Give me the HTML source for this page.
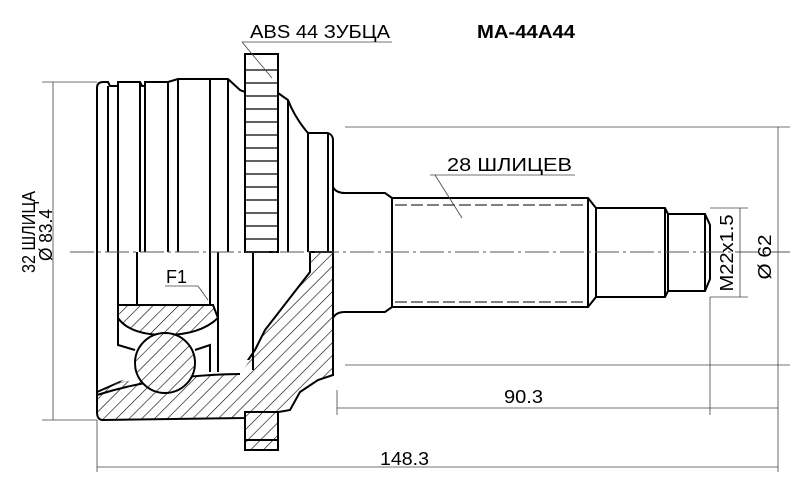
<!DOCTYPE html>
<html><head><meta charset="utf-8"><style>
html,body{margin:0;padding:0;background:#fff;}
svg{display:block;font-family:"Liberation Sans",sans-serif;}
</style></head><body>
<svg width="800" height="502" viewBox="0 0 800 502" xmlns="http://www.w3.org/2000/svg">
<defs>
<pattern id="h" width="9" height="9" patternUnits="userSpaceOnUse" patternTransform="rotate(45)">
<rect width="9" height="9" fill="#fff"/><line x1="0" y1="0" x2="0" y2="9" stroke="#000" stroke-width="1.2"/>
</pattern>
</defs>
<g fill="none" stroke="#000" stroke-width="2">
<path d="M97,252 L97,88 Q97,82 103,82 L108,82 L110,86 L118,86 L118,82 L140,82 L142,86 L145,86 L145,82 L168,82 L178,79 L228,79 L240,90 L245,92"/>
<line x1="108" y1="86" x2="108" y2="252"/>
<line x1="118" y1="86" x2="118" y2="252"/>
<line x1="140" y1="82" x2="140" y2="252"/>
<line x1="145" y1="82" x2="145" y2="252"/>
<line x1="168" y1="82" x2="168" y2="252"/>
<line x1="178" y1="79" x2="178" y2="252"/>
<line x1="210" y1="79" x2="210" y2="252"/>
<line x1="228" y1="79" x2="228" y2="252"/>
<rect x="245" y="54" width="33" height="198"/>
<path d="M278,93 L288,100 Q295,118 308,133 L328,133 Q333,135 333,140 L333,252"/>
<line x1="288" y1="100" x2="288" y2="252"/>
<line x1="308" y1="133" x2="308" y2="252"/>
<line x1="328" y1="133" x2="328" y2="252"/>
<path d="M333,187 Q336,193 345,193 L385,193 L392,198 L588,198 L596,208 L665,208 L668,214 L705,214 L710,225 L710,279 L705,291 L668,291 L665,297 L596,297 L588,307 L392,307 L385,312 L345,312 Q336,312 333,318"/>
<line x1="392" y1="198" x2="392" y2="307"/>
<line x1="588" y1="198" x2="588" y2="307"/>
<line x1="596" y1="208" x2="596" y2="297"/>
<line x1="665" y1="208" x2="665" y2="297"/>
<line x1="668" y1="214" x2="668" y2="291"/>
<line x1="705" y1="214" x2="705" y2="291"/>
</g>
<g stroke="#000" stroke-width="1.2">
<line x1="245" y1="70" x2="278" y2="70"/><line x1="245" y1="83" x2="278" y2="83"/><line x1="245" y1="96" x2="278" y2="96"/><line x1="245" y1="109" x2="278" y2="109"/><line x1="245" y1="122" x2="278" y2="122"/><line x1="245" y1="135" x2="278" y2="135"/><line x1="245" y1="148" x2="278" y2="148"/><line x1="245" y1="161" x2="278" y2="161"/><line x1="245" y1="174" x2="278" y2="174"/><line x1="245" y1="187" x2="278" y2="187"/><line x1="245" y1="200" x2="278" y2="200"/><line x1="245" y1="213" x2="278" y2="213"/><line x1="245" y1="226" x2="278" y2="226"/><line x1="245" y1="239" x2="278" y2="239"/>
</g>
<g stroke="#000" stroke-width="1" stroke-dasharray="12,4">
<line x1="395" y1="205" x2="588" y2="205"/><line x1="395" y1="302" x2="588" y2="302"/>
</g>
<g stroke="#000" stroke-width="2">
<path fill="url(#h)" d="M97,252 L97,412 Q97,420 103,420 L245,418 L290,410 L300,392 L318,380 L333,375 L333,252 L310,252 L310,272 L265,330 L255,350 L240,372 L205,374 L150,375 L120,382 L97,392"/>
<path fill="#fff" d="M97,395 L118,383 L150,377 L205,376 L240,374 L250,360 L160,360 Z" stroke="none"/>
<path fill="none" d="M97,395 Q160,375 240,374"/>
<path fill="url(#h)" d="M118,305 L213,305 L218,318 Q200,335 165,335 Q130,335 118,318 Z"/>
<circle cx="165" cy="363" r="30" fill="url(#h)"/>
<rect x="245" y="412" width="33" height="38" fill="url(#h)"/>
<line x1="245" y1="440" x2="278" y2="440"/>
<g fill="none">
<line x1="118" y1="252" x2="118" y2="305"/>
<line x1="137" y1="252" x2="137" y2="305"/>
<line x1="210" y1="252" x2="210" y2="305"/>
<line x1="218" y1="252" x2="218" y2="318"/>
<polyline points="218,318 218,372"/>
<line x1="253" y1="252" x2="253" y2="370"/>
<path d="M118,318 L118,345 L135,350"/>
<path d="M195,350 L210,345 L210,372"/>
</g>
</g>
<line x1="70" y1="252" x2="790" y2="252" stroke="#555" stroke-width="1" stroke-dasharray="24,4,3,4"/>
<g stroke="#444" stroke-width="0.8" fill="none">
<line x1="42" y1="82" x2="97" y2="82"/><line x1="42" y1="420" x2="97" y2="420"/>
<line x1="53" y1="82" x2="53" y2="420"/>
<line x1="345" y1="127" x2="790" y2="127"/><line x1="345" y1="365" x2="790" y2="365"/>
<line x1="778" y1="127" x2="778" y2="365"/>
<line x1="710" y1="208" x2="748" y2="208"/><line x1="710" y1="297" x2="748" y2="297"/>
<line x1="740" y1="208" x2="740" y2="297"/>
<line x1="337" y1="390" x2="337" y2="415"/><line x1="710" y1="297" x2="710" y2="415"/>
<line x1="337" y1="408" x2="778" y2="408"/>
<line x1="97" y1="420" x2="97" y2="472"/>
<line x1="97" y1="467" x2="778" y2="467"/>
<line x1="778" y1="365" x2="778" y2="472"/>
<line x1="242" y1="42" x2="392" y2="42"/><line x1="242" y1="42" x2="272" y2="78"/>
<line x1="430" y1="175" x2="575" y2="175"/><line x1="435" y1="175" x2="462" y2="218"/>
<line x1="165" y1="286" x2="198" y2="286"/><line x1="198" y1="286" x2="208" y2="300"/>
</g>
<g fill="#000" font-size="18">
<text x="250" y="38" textLength="140" lengthAdjust="spacingAndGlyphs">ABS 44 ЗУБЦА</text>
<text x="477" y="38" font-weight="bold" textLength="98" lengthAdjust="spacingAndGlyphs">MA-44A44</text>
<text x="447" y="171" textLength="125" lengthAdjust="spacingAndGlyphs">28 ШЛИЦЕВ</text>
<text x="166" y="283">F1</text>
<text x="504" y="403" textLength="39" lengthAdjust="spacingAndGlyphs">90.3</text>
<text x="380" y="465" textLength="49" lengthAdjust="spacingAndGlyphs">148.3</text>
<text transform="translate(35,232) rotate(-90)" text-anchor="middle" textLength="82" lengthAdjust="spacingAndGlyphs">32 ШЛИЦА</text>
<text transform="translate(52,235) rotate(-90)" text-anchor="middle" textLength="52" lengthAdjust="spacingAndGlyphs">Ø 83.4</text>
<text transform="translate(733,253) rotate(-90)" text-anchor="middle" textLength="77" lengthAdjust="spacingAndGlyphs">M22x1.5</text>
<text transform="translate(771,257) rotate(-90)" text-anchor="middle" textLength="45" lengthAdjust="spacingAndGlyphs">Ø 62</text>
</g>
</svg>
</body></html>
